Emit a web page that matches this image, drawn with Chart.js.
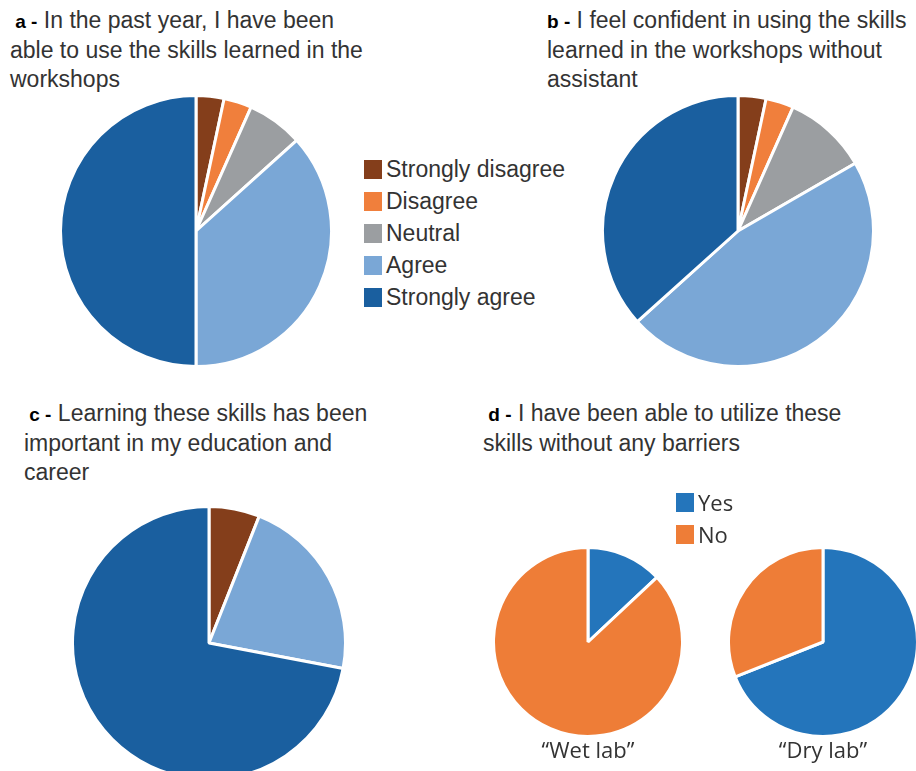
<!DOCTYPE html>
<html>
<head>
<meta charset="utf-8">
<script src="https://cdn.jsdelivr.net/npm/chart.js"></script>
<style>
  body { margin: 0; width: 916px; height: 771px; overflow: hidden; background: #fff;
         font-family: "Liberation Sans", Arial, sans-serif; position: relative; }
  .title { position: absolute; font-size: 23px; line-height: 29px; color: #333; white-space: nowrap; }
  .title b { color: #000; font-size: 19px; }
  .pie { position: absolute; }
  .legend { position: absolute; font-size: 23px; color: #333; }
  .legend div { height: 32px; line-height: 32px; display: flex; align-items: center; }
  .legend span.box { display: inline-block; width: 18px; height: 19px; margin-right: 4px; }
  .lab { position: absolute; font-family: "Open Sans", sans-serif; font-size: 22px; color: #333;
         width: 200px; text-align: center; }
</style>
</head>
<body>

<div class="title" style="left:10px; top:6px;"><b>&nbsp;a -</b> In the past year, I have been<br>able to use the skills learned in the<br>workshops</div>
<div class="title" style="left:547px; top:6px;"><b>b -</b> I feel confident in using the skills<br>learned in the workshops without<br>assistant</div>
<div class="title" style="left:24px; top:399px;"><b>&nbsp;c -</b> Learning these skills has been<br>important in my education and<br>career</div>
<div class="title" style="left:483px; top:399px;"><b>&nbsp;d -</b> I have been able to utilize these<br>skills without any barriers</div>

<div class="pie" style="left:59px; top:94px; width:274px; height:274px;"><canvas id="pieA"></canvas></div>
<div class="pie" style="left:601px; top:94px; width:274px; height:274px;"><canvas id="pieB"></canvas></div>
<div class="pie" style="left:71px; top:505px; width:276px; height:276px;"><canvas id="pieC"></canvas></div>
<div class="pie" style="left:492px; top:546px; width:192px; height:192px;"><canvas id="pieWet"></canvas></div>
<div class="pie" style="left:727px; top:546px; width:192px; height:192px;"><canvas id="pieDry"></canvas></div>

<div class="legend" id="legendLikert" style="left:364px; top:153px;"></div>
<div class="legend" id="legendYesNo" style="left:676px; top:486px; font-family: 'Open Sans', sans-serif; font-size: 22px;"></div>

<div class="lab" style="left:488px; top:734px;">“Wet lab”</div>
<div class="lab" style="left:723px; top:734px;">“Dry lab”</div>

<script>
// Likert categories (a, b, c)
const likertLabels = ['Strongly disagree', 'Disagree', 'Neutral', 'Agree', 'Strongly agree'];
const likertColors = ['#843e1b', '#f07f3c', '#9b9ea1', '#7aa7d6', '#1a5f9f'];

// responses per panel (counts / percent)
const usedSkills = [1, 1, 2, 11, 15];        // a
const confidentAlone = [1, 1, 3, 14, 11];    // b
const importantCareer = [6, 0, 0, 22, 72];   // c

// Yes / No (d)
const yesNoLabels = ['Yes', 'No'];
const yesNoColors = ['#2475bb', '#ee7d37'];
const wetLab = [13, 87];
const dryLab = [69, 31];

function makePie(id, labels, values, colors) {
  new Chart(document.getElementById(id), {
    type: 'pie',
    data: {
      labels: labels,
      datasets: [{
        data: values,
        backgroundColor: colors,
        borderColor: '#ffffff',
        borderWidth: 3
      }]
    },
    options: {
      responsive: true,
      maintainAspectRatio: false,
      animation: false,
      layout: { padding: 0 },
      plugins: {
        legend: { display: false },
        tooltip: { enabled: false }
      }
    }
  });
}

function makeLegend(id, labels, colors) {
  const el = document.getElementById(id);
  labels.forEach((label, i) => {
    const row = document.createElement('div');
    const box = document.createElement('span');
    box.className = 'box';
    box.style.background = colors[i];
    row.appendChild(box);
    row.appendChild(document.createTextNode(label));
    el.appendChild(row);
  });
}

makePie('pieA', likertLabels, usedSkills, likertColors);
makePie('pieB', likertLabels, confidentAlone, likertColors);
makePie('pieC', likertLabels, importantCareer, likertColors);
makePie('pieWet', yesNoLabels, wetLab, yesNoColors);
makePie('pieDry', yesNoLabels, dryLab, yesNoColors);

makeLegend('legendLikert', likertLabels, likertColors);
makeLegend('legendYesNo', yesNoLabels, yesNoColors);
</script>
</body>
</html>
